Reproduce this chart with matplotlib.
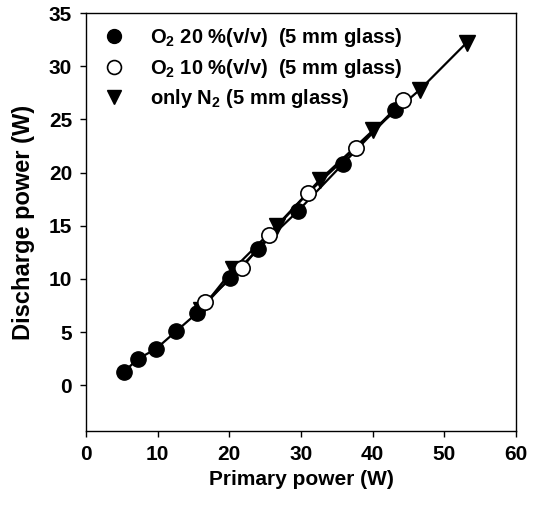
import matplotlib
matplotlib.use("Agg")
import matplotlib.pyplot as plt
from matplotlib.lines import Line2D

plt.rcParams['font.family'] = ['Liberation Sans', 'DejaVu Sans']
plt.rcParams['font.weight'] = 'bold'
plt.rcParams['mathtext.default'] = 'regular'

# O2 20 % (v/v), filled circles
o2_20_x = [5.3, 7.3, 9.8, 12.6, 15.5, 20.1, 24.0, 29.6, 35.9, 43.1]
o2_20_y = [1.3, 2.5, 3.45, 5.1, 6.8, 10.1, 12.8, 16.4, 20.85, 25.9]

# O2 10 % (v/v), open circles
o2_10_x = [16.6, 21.7, 25.5, 31.0, 37.7, 44.3]
o2_10_y = [7.8, 11.0, 14.1, 18.1, 22.3, 26.8]

# only N2, down triangles
n2_x = [16.0, 20.5, 26.6, 32.6, 40.1, 46.6, 53.1]
n2_y = [7.1, 10.9, 15.0, 19.3, 24.0, 27.8, 32.2]

labels = [r'O$_2$ 20 %(v/v)  (5 mm glass)',
          r'O$_2$ 10 %(v/v)  (5 mm glass)',
          r'only N$_2$ (5 mm glass)']

fig = plt.figure(figsize=(5.39, 5.12), dpi=100)
ax = fig.add_axes([0.1596, 0.158, 0.7977, 0.8166])

ms = 11
ax.plot(n2_x, n2_y, '-', color='black', lw=1.6, zorder=1)
ax.plot(o2_20_x, o2_20_y, '-', color='black', lw=1.6, zorder=1)
ax.plot(o2_10_x, o2_10_y, '-', color='black', lw=1.6, zorder=1)
ax.plot(n2_x, n2_y, 'v', color='black', ms=ms, zorder=2)
ax.plot(o2_20_x, o2_20_y, 'o', color='black', ms=ms, zorder=3)
ax.plot(o2_10_x, o2_10_y, 'o', mfc='white', mec='black', mew=1.2, ms=ms, zorder=4)

handles = [
    Line2D([], [], ls='none', marker='o', color='black', ms=ms - 1),
    Line2D([], [], ls='none', marker='o', mfc='white', mec='black', mew=1.2, ms=ms - 1),
    Line2D([], [], ls='none', marker='v', color='black', ms=ms - 1),
]
ax.legend(handles, labels, loc='upper left', frameon=False, fontsize=14.5,
          bbox_to_anchor=(0.0, 1.012), borderaxespad=0.5, handletextpad=1.3,
          labelspacing=0.38, handlelength=1.0)

ax.set_xlim(0, 60)
ax.set_ylim(-4.3, 35)
ax.set_xticks(range(0, 61, 10))
ax.set_yticks(range(0, 36, 5))
ax.tick_params(direction='out', length=4, width=1, labelsize=15, pad=6)
for s in ax.spines.values():
    s.set_linewidth(1)

ax.set_xlabel('Primary power (W)', fontsize=15, fontweight='bold', labelpad=4)
ax.set_ylabel('Discharge power (W)', fontsize=17, fontweight='bold', labelpad=10)

fig.savefig('out.png', dpi=100)
